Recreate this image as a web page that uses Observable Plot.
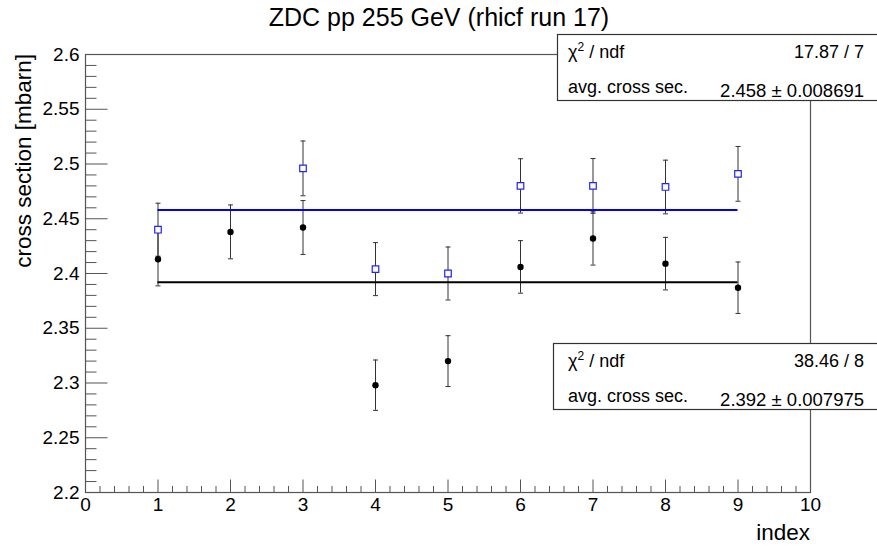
<!DOCTYPE html>
<html>
<head>
<meta charset="utf-8">
<script src="https://cdn.jsdelivr.net/npm/d3@7"></script>
<script src="https://cdn.jsdelivr.net/npm/@observablehq/plot@0.6"></script>
<style>
  html, body { margin: 0; padding: 0; background: white; }
</style>
</head>
<body>
<div id="chart"></div>
<script>
// ---- data ----
const titleText = "ZDC pp 255 GeV (rhicf run 17)";
const xLabel = "index";
const yLabel = "cross section [mbarn]";

// black series (filled circles)
const blackIndex = [1, 2, 3, 4, 5, 6, 7, 8, 9];
const blackValue = [2.413, 2.438, 2.442, 2.298, 2.320, 2.406, 2.432, 2.409, 2.387];
const blackError = [0.0243, 0.0246, 0.0246, 0.0230, 0.0232, 0.0240, 0.0243, 0.0240, 0.0235];

// blue series (open squares)
const blueIndex = [1, 3, 4, 5, 6, 7, 8, 9];
const blueValue = [2.440, 2.496, 2.404, 2.400, 2.480, 2.480, 2.479, 2.491];
const blueError = [0.0242, 0.0250, 0.0242, 0.0242, 0.0248, 0.0250, 0.0245, 0.0250];

// fit results (blue box, black box)
const fitChi2 = [17.87, 38.46];
const fitNdf = [7, 8];
const fitAvg = [2.458, 2.392];
const fitAvgErr = ["0.008691", "0.007975"];
const fitRange = [1, 9];
const statLabels = ["χ", " / ndf", "avg. cross sec."];

// ticks
const xMajor = [0, 1, 2, 3, 4, 5, 6, 7, 8, 9, 10];
const xMinor = [0.2,0.4,0.6,0.8,1.2,1.4,1.6,1.8,2.2,2.4,2.6,2.8,3.2,3.4,3.6,3.8,4.2,4.4,4.6,4.8,
                5.2,5.4,5.6,5.8,6.2,6.4,6.6,6.8,7.2,7.4,7.6,7.8,8.2,8.4,8.6,8.8,9.2,9.4,9.6,9.8];
const yMajor = [2.2, 2.25, 2.3, 2.35, 2.4, 2.45, 2.5, 2.55, 2.6];
const yMinor = [2.21,2.22,2.23,2.24,2.26,2.27,2.28,2.29,2.31,2.32,2.33,2.34,2.36,2.37,2.38,2.39,
                2.41,2.42,2.43,2.44,2.46,2.47,2.48,2.49,2.51,2.52,2.53,2.54,2.56,2.57,2.58,2.59];

// ---- build tables ----
const black = blackIndex.map((i, k) => ({i, v: blackValue[k], e: blackError[k]}));
const blue = blueIndex.map((i, k) => ({i, v: blueValue[k], e: blueError[k]}));

// ---- custom symbols (pixel-length lines) ----
const hTick = len => ({draw(ctx) { ctx.moveTo(0, 0); ctx.lineTo(len, 0); }});
const vTick = len => ({draw(ctx) { ctx.moveTo(0, 0); ctx.lineTo(0, -len); }});
const cap = w => ({draw(ctx) { ctx.moveTo(-w, 0); ctx.lineTo(w, 0); }});

const font = "'Liberation Sans', Arial, Helvetica, sans-serif";
const axisColor = "#555";

const plot = Plot.plot({
  width: 877,
  height: 546,
  marginLeft: 85,
  marginRight: 67,
  marginTop: 54,
  marginBottom: 54,
  x: {domain: [0, 10]},
  y: {domain: [2.2, 2.6]},
  style: {fontFamily: font, fontSize: "19px", background: "white", color: "black", overflow: "visible"},
  marks: [
    Plot.frame({stroke: axisColor, strokeWidth: 1.2}),
    // ticks (inward)
    Plot.dot(yMajor, {x: 0, y: d => d, symbol: hTick(22), fill: "none", stroke: axisColor, strokeWidth: 1}),
    Plot.dot(yMinor, {x: 0, y: d => d, symbol: hTick(11), fill: "none", stroke: axisColor, strokeWidth: 1}),
    Plot.dot(xMajor, {x: d => d, y: 2.2, symbol: vTick(13), fill: "none", stroke: axisColor, strokeWidth: 1}),
    Plot.dot(xMinor, {x: d => d, y: 2.2, symbol: vTick(6.5), fill: "none", stroke: axisColor, strokeWidth: 1}),
    Plot.axisX({ticks: xMajor, tickSize: 0, tickPadding: 5, tickFormat: d => String(d), label: null, fontSize: 19}),
    Plot.axisY({ticks: yMajor, tickSize: 0, tickPadding: 6, tickFormat: d => String(+d.toFixed(2)), label: null, fontSize: 19}),
    // error bars
    Plot.ruleX(black, {x: "i", y1: d => d.v - d.e, y2: d => d.v + d.e, stroke: "#333", strokeWidth: 1}),
    Plot.ruleX(blue, {x: "i", y1: d => d.v - d.e, y2: d => d.v + d.e, stroke: "#333", strokeWidth: 1}),
    Plot.dot(black, {x: "i", y: d => d.v + d.e, symbol: cap(2.5), fill: "none", stroke: "#333", strokeWidth: 1}),
    Plot.dot(black, {x: "i", y: d => d.v - d.e, symbol: cap(2.5), fill: "none", stroke: "#333", strokeWidth: 1}),
    Plot.dot(blue, {x: "i", y: d => d.v + d.e, symbol: cap(2.5), fill: "none", stroke: "#333", strokeWidth: 1}),
    Plot.dot(blue, {x: "i", y: d => d.v - d.e, symbol: cap(2.5), fill: "none", stroke: "#333", strokeWidth: 1}),
    // fit lines
    Plot.ruleY([fitAvg[0]], {x1: fitRange[0], x2: fitRange[1], stroke: "#0000ff", strokeWidth: 2}),
    Plot.ruleY([fitAvg[1]], {x1: fitRange[0], x2: fitRange[1], stroke: "black", strokeWidth: 2}),
    // markers
    Plot.dot(black, {x: "i", y: "v", r: 3.2, fill: "black", stroke: "none"}),
    Plot.dot(blue, {x: "i", y: "v", symbol: "square", r: 3.7, fill: "white", stroke: "#2222ff", strokeWidth: 1.2})
  ]
});

document.getElementById("chart").appendChild(plot);

// ---- titles and stat boxes ----
const svg = d3.select(plot);
svg.append("text")
  .attr("x", 439).attr("y", 26)
  .attr("text-anchor", "middle")
  .style("font-family", font).style("font-size", "25px").attr("fill", "black")
  .text(titleText);

svg.append("text")
  .attr("x", 810).attr("y", 540)
  .attr("text-anchor", "end")
  .style("font-family", font).style("font-size", "22.5px").attr("fill", "black")
  .text(xLabel);

svg.append("text")
  .attr("transform", "translate(31,54) rotate(-90)")
  .attr("text-anchor", "end")
  .style("font-family", font).style("font-size", "22.5px").attr("fill", "black")
  .text(yLabel);

const boxes = [
  {x: 557, y: 34, k: 0},
  {x: 553, y: 343, k: 1}
];
boxes.forEach(b => {
  const g = svg.append("g").style("font-family", font).attr("fill", "black");
  g.append("rect")
    .attr("x", b.x + 0.5).attr("y", b.y + 0.5)
    .attr("width", 340).attr("height", 66)
    .attr("fill", "white").attr("stroke", "#333").attr("stroke-width", 1.2);
  const t1 = g.append("text").attr("x", 568).attr("y", b.y + 24)
    .attr("text-anchor", "start").style("font-size", "18px");
  t1.append("tspan").text(statLabels[0]);
  t1.append("tspan").attr("dy", -7).style("font-size", "12px").text("2");
  t1.append("tspan").attr("dy", 7).text(statLabels[1]);
  g.append("text").attr("x", 864).attr("y", b.y + 24).attr("text-anchor", "end")
    .style("font-size", "18px").text(`${fitChi2[b.k]} / ${fitNdf[b.k]}`);
  g.append("text").attr("x", 568).attr("y", b.y + 59).attr("text-anchor", "start")
    .style("font-size", "18px").text(statLabels[2]);
  g.append("text").attr("x", 864).attr("y", b.y + 63).attr("text-anchor", "end")
    .style("font-size", "18.5px").text(`${fitAvg[b.k]} ± ${fitAvgErr[b.k]}`);
});
</script>
</body>
</html>
